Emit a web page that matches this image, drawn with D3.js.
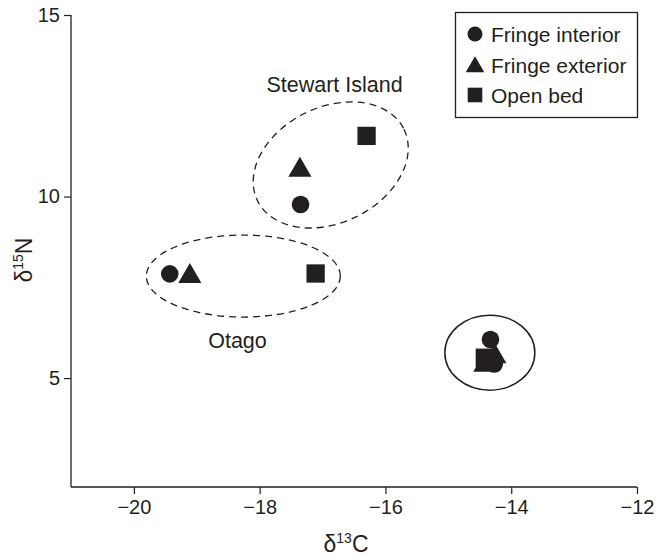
<!DOCTYPE html>
<html>
<head>
<meta charset="utf-8">
<script src="https://cdn.jsdelivr.net/npm/d3@7"></script>
<style>
  html, body { margin: 0; padding: 0; background: #fff; }
  svg { display: block; font-family: "Liberation Sans", Arial, Helvetica, sans-serif; }
</style>
</head>
<body>
<svg id="chart" width="660" height="557"></svg>
<script>
// Stable isotope values (δ13C, δ15N) by habitat
const fringeInteriorC = [-19.43, -17.35, -14.33, -14.27];
const fringeInteriorN = [7.87, 9.78, 6.06, 5.39];
const fringeExteriorC = [-19.11, -17.36, -14.26, -14.42];
const fringeExteriorN = [7.80, 10.73, 5.59, 5.36];
const openBedC = [-17.11, -16.30, -14.42];
const openBedN = [7.88, 11.67, 5.56];

const seriesNames = ["Fringe interior", "Fringe exterior", "Open bed"];
const xTicks = [-20, -18, -16, -14, -12];
const yTicks = [5, 10, 15];

// Site groupings (centre in data units)
const siteNames = ["Stewart Island", "Otago", ""];
const siteCentreC = [-16.87, -18.26, -14.34];
const siteCentreN = [10.87, 7.81, 5.70];

const ink = "#231f20";
const width = 660, height = 557;
const margin = { top: 15, right: 23, bottom: 70, left: 71 };

const svg = d3.select("#chart");

const x = d3.scaleLinear().domain([-21, -12]).range([margin.left, width - margin.right]);
const y = d3.scaleLinear().domain([2, 15]).range([height - margin.bottom, margin.top]);

// Axes
const xAxis = svg.append("g")
  .attr("transform", `translate(0,${height - margin.bottom})`)
  .call(d3.axisBottom(x).tickValues(xTicks).tickSize(7).tickPadding(6)
    .tickFormat(d => d3.format("d")(d).replace("-", "\u2212")));
const yAxis = svg.append("g")
  .attr("transform", `translate(${margin.left},0)`)
  .call(d3.axisLeft(y).tickValues(yTicks).tickSize(7).tickPadding(4));

[xAxis, yAxis].forEach(g => {
  g.select(".domain").attr("stroke", ink).attr("stroke-width", 1.3)
    .attr("d", g === xAxis
      ? `M${margin.left},0H${width - margin.right}`
      : `M0,${margin.top}V${height - margin.bottom}`);
  g.selectAll(".tick line").attr("stroke", ink).attr("stroke-width", 1.2);
  g.selectAll(".tick text").attr("fill", ink)
    .style("font-size", "20px").style("font-family", "'Liberation Sans', Arial, sans-serif");
});

// Axis titles
const xTitle = svg.append("text")
  .attr("x", 346).attr("y", 552)
  .attr("text-anchor", "middle")
  .attr("fill", ink).style("font-size", "23px");
xTitle.append("tspan").text("\u03b4");
xTitle.append("tspan").attr("dy", -9).style("font-size", "14px").text("13");
xTitle.append("tspan").attr("dy", 9).text("C");

const yTitle = svg.append("text")
  .attr("transform", "translate(32,260) rotate(-90)")
  .attr("text-anchor", "middle")
  .attr("fill", ink).style("font-size", "23px");
yTitle.append("tspan").text("\u03b4");
yTitle.append("tspan").attr("dy", -9).style("font-size", "14px").text("15");
yTitle.append("tspan").attr("dy", 9).text("N");

// Site outlines
const outlines = svg.append("g").attr("fill", "none").attr("stroke", ink);
// Stewart Island: tilted dashed ellipse
outlines.append("ellipse")
  .attr("cx", 0).attr("cy", 0).attr("rx", 81.5).attr("ry", 57.8)
  .attr("transform", `translate(${x(siteCentreC[0])},${y(siteCentreN[0])}) rotate(-26)`)
  .attr("stroke-width", 1.3).attr("stroke-dasharray", "7,5");
// Otago: horizontal dashed ellipse
outlines.append("ellipse")
  .attr("cx", x(siteCentreC[1])).attr("cy", y(siteCentreN[1]))
  .attr("rx", 97).attr("ry", 41)
  .attr("stroke-width", 1.3).attr("stroke-dasharray", "7,5");
// Third site: solid ellipse
outlines.append("ellipse")
  .attr("cx", x(siteCentreC[2])).attr("cy", y(siteCentreN[2]))
  .attr("rx", 45).attr("ry", 37.5)
  .attr("stroke-width", 1.5);

// Site labels
svg.append("text").attr("x", 334.5).attr("y", 92).attr("text-anchor", "middle")
  .attr("fill", ink).style("font-size", "21.5px").text(siteNames[0]);
svg.append("text").attr("x", 237.5).attr("y", 348).attr("text-anchor", "middle")
  .attr("fill", ink).style("font-size", "21.5px").text(siteNames[1]);

// Markers
const symbols = [
  d3.symbol().type(d3.symbolCircle).size(Math.PI * 8.8 * 8.8),
  d3.symbol().type(d3.symbolTriangle).size(231),
  d3.symbol().type(d3.symbolSquare).size(18.3 * 18.3)
];
const seriesC = [fringeInteriorC, fringeExteriorC, openBedC];
const seriesN = [fringeInteriorN, fringeExteriorN, openBedN];

const marks = svg.append("g").attr("fill", ink);
seriesC.forEach((cs, i) => {
  marks.selectAll(null)
    .data(cs.map((c, j) => ({ c, n: seriesN[i][j] })))
    .join("path")
    .attr("d", symbols[i])
    .attr("transform", d => `translate(${x(d.c)},${y(d.n)})`);
});

// Legend
const legend = svg.append("g");
legend.append("rect")
  .attr("x", 455.5).attr("y", 12.5).attr("width", 182).attr("height", 105)
  .attr("fill", "#fff").attr("stroke", ink).attr("stroke-width", 1.3);
const legendSymbols = [
  d3.symbol().type(d3.symbolCircle).size(Math.PI * 7.5 * 7.5),
  d3.symbol().type(d3.symbolTriangle).size(150),
  d3.symbol().type(d3.symbolSquare).size(14.6 * 14.6)
];
const rowY = [34, 65, 95];
seriesNames.forEach((name, i) => {
  legend.append("path").attr("d", legendSymbols[i])
    .attr("transform", `translate(475,${rowY[i] + (i === 1 ? 2 : 0)})`)
    .attr("fill", ink);
  legend.append("text").attr("x", 491).attr("y", rowY[i] + 7.5)
    .attr("fill", ink).style("font-size", "21px").text(name);
});
</script>
</body>
</html>
